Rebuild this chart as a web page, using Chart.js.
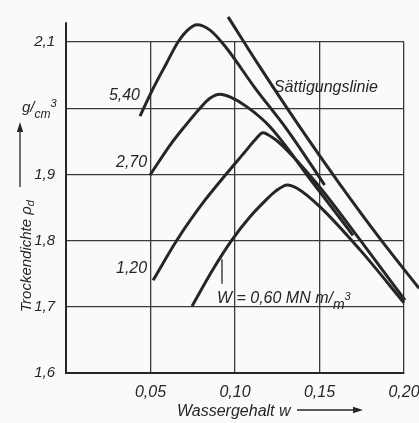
<!DOCTYPE html>
<html><head><meta charset="utf-8">
<script src="https://cdn.jsdelivr.net/npm/chart.js@4/dist/chart.umd.min.js"></script>
<style>html,body{margin:0;padding:0;background:#fafaf8;}#wrap{width:419px;height:423px;}</style>
</head><body><div id="wrap"><canvas id="c" width="419" height="423"></canvas></div>
<script>
// ---------- data ----------
const xTickValues = [0, 0.05, 0.10, 0.15, 0.20];
const yTickValues = [1.6, 1.7, 1.8, 1.9, 2.0, 2.1];

// Sättigungslinie
const wSat   = [0.0959, 0.1148, 0.1385, 0.1621, 0.1858, 0.2089];
const rhoSat = [2.138, 2.062, 1.971, 1.885, 1.803, 1.728];

// W = 5,40 MN m/m3
const w540   = [0.0438, 0.0510, 0.0595, 0.0663, 0.0720, 0.0775, 0.0852, 0.0940, 0.1120, 0.1310, 0.1530];
const rho540 = [1.988, 2.027, 2.068, 2.100, 2.118, 2.126, 2.118, 2.094, 2.030, 1.967, 1.884];

// W = 2,70
const w270   = [0.0497, 0.0615, 0.0704, 0.0793, 0.0852, 0.0911, 0.0970, 0.1071, 0.1207, 0.1462, 0.1698];
const rho270 = [1.899, 1.944, 1.973, 2.000, 2.015, 2.021, 2.017, 2.002, 1.972, 1.887, 1.808];

// W = 1,20
const w120   = [0.0515, 0.0657, 0.0822, 0.0953, 0.1059, 0.1118, 0.1166, 0.1219, 0.1266, 0.1491, 0.1740, 0.2006];
const rho120 = [1.740, 1.801, 1.861, 1.902, 1.934, 1.952, 1.963, 1.956, 1.947, 1.884, 1.801, 1.710];

// W = 0,60
const w060   = [0.0746, 0.0864, 0.0982, 0.1089, 0.1178, 0.1237, 0.1310, 0.1367, 0.1503, 0.1740, 0.2000];
const rho060 = [1.701, 1.754, 1.801, 1.836, 1.860, 1.874, 1.884, 1.879, 1.851, 1.786, 1.706];

// pointer from the 0,60 label to its curve
const wPointer   = [0.0923, 0.0923];
const rhoPointer = [1.735, 1.772];

const curveLabels = ['5,40', '2,70', '1,20'];
const satLabel = 'Sättigungslinie';
const lowLabel = 'W = 0,60 MN m/';
const xTitle = 'Wassergehalt w';
const yTitle = 'Trockendichte ρ';

// ---------- annotation anchors (data coords) ----------
const curveLabelAnchors = [[0.0438, 2.012], [0.0480, 1.911], [0.0480, 1.751]];
const satLabelAnchor = [0.1230, 2.0245];
const lowLabelAnchor = [0.0893, 1.706];

const FONT = '"Liberation Sans", Arial, Helvetica, sans-serif';
const INK = '#262626';
const pts = (w, r) => w.map((v, i) => ({x: v, y: r[i]}));

function curve(w, r) {
  return {data: pts(w, r), borderColor: INK, borderWidth: 3, pointRadius: 0,
          cubicInterpolationMode: 'monotone', clip: false, fill: false};
}

function arrow(ctx, x1, y1, x2, y2) {
  const a = Math.atan2(y2 - y1, x2 - x1), L = 10, h = 3.2;
  ctx.beginPath(); ctx.moveTo(x1, y1);
  ctx.lineTo(x2 - Math.cos(a) * L * 0.6, y2 - Math.sin(a) * L * 0.6); ctx.stroke();
  ctx.beginPath();
  ctx.moveTo(x2, y2);
  ctx.lineTo(x2 - Math.cos(a) * L - Math.sin(a) * h, y2 - Math.sin(a) * L + Math.cos(a) * h);
  ctx.lineTo(x2 - Math.cos(a) * L + Math.sin(a) * h, y2 - Math.sin(a) * L - Math.cos(a) * h);
  ctx.closePath(); ctx.fill();
}

const textPlugin = {
  id: 'texts',
  afterDraw(chart) {
    const {ctx, chartArea: ca} = chart;
    const xs = chart.scales.x, ys = chart.scales.y;
    ctx.save();
    ctx.fillStyle = INK; ctx.strokeStyle = INK;
    // y axis extension above 2,1
    ctx.lineWidth = 2;
    ctx.beginPath(); ctx.moveTo(ca.left, ca.top); ctx.lineTo(ca.left, ys.getPixelForValue(2.13)); ctx.stroke();

    ctx.textBaseline = 'alphabetic';
    ctx.font = 'italic 16px ' + FONT;
    // curve labels
    ctx.textAlign = 'right';
    curveLabels.forEach((t, i) => {
      ctx.fillText(t, xs.getPixelForValue(curveLabelAnchors[i][0]), ys.getPixelForValue(curveLabelAnchors[i][1]));
    });
    ctx.textAlign = 'left';
    ctx.fillText(satLabel, xs.getPixelForValue(satLabelAnchor[0]), ys.getPixelForValue(satLabelAnchor[1]));
    // W = 0,60 MN m/m3
    let lx = xs.getPixelForValue(lowLabelAnchor[0]), ly = ys.getPixelForValue(lowLabelAnchor[1]);
    ctx.fillText(lowLabel, lx, ly);
    lx += ctx.measureText(lowLabel).width;
    ctx.font = 'italic 14px ' + FONT;
    ctx.fillText('m', lx, ly + 6);
    lx += ctx.measureText('m').width;
    ctx.font = 'italic 11px ' + FONT;
    ctx.fillText('3', lx, ly - 3);

    // unit g/cm3 at 2,0
    const uy = ys.getPixelForValue(2.0);
    let ux = ca.left - 44;
    ctx.font = 'italic 15px ' + FONT;
    ctx.fillText('g/', ux, uy + 4);
    ux += ctx.measureText('g/').width;
    ctx.font = 'italic 12px ' + FONT;
    ctx.fillText('cm', ux, uy + 10);
    ux += ctx.measureText('cm').width;
    ctx.font = 'italic 11px ' + FONT;
    ctx.fillText('3', ux, uy - 1);

    // y title (rotated) + arrow
    ctx.save();
    ctx.translate(ca.left - 35, ca.bottom - 61);
    ctx.rotate(-Math.PI / 2);
    ctx.font = 'italic 15px ' + FONT;
    ctx.fillText(yTitle, 0, 0);
    const tw = ctx.measureText(yTitle).width;
    ctx.font = 'italic 11px ' + FONT;
    ctx.fillText('d', tw, 3);
    ctx.restore();
    ctx.lineWidth = 1.3;
    arrow(ctx, ca.left - 46, ca.bottom - 186, ca.left - 46, ca.bottom - 251);

    // x title + arrow
    ctx.font = 'italic 16px ' + FONT;
    ctx.fillText(xTitle, ca.left + 111, ca.bottom + 43);
    arrow(ctx, ca.left + 231, ca.bottom + 37, ca.left + 297, ca.bottom + 37);
    ctx.restore();
  }
};

const gridStyle = {color: '#3a3a3a', lineWidth: 1.3, drawTicks: false};
const borderStyle = {display: true, color: INK, width: 2};

new Chart(document.getElementById('c'), {
  type: 'line',
  data: {
    datasets: [
      curve(wSat, rhoSat),
      curve(w540, rho540),
      curve(w270, rho270),
      curve(w120, rho120),
      curve(w060, rho060),
      {data: pts(wPointer, rhoPointer), borderColor: INK, borderWidth: 1.3, pointRadius: 0, tension: 0, clip: false}
    ]
  },
  options: {
    responsive: false, animation: false, devicePixelRatio: 1,
    layout: {padding: {left: 0, right: 15, top: 42, bottom: 0}},
    plugins: {legend: {display: false}, tooltip: {enabled: false}},
    scales: {
      x: {
        type: 'linear', min: 0, max: 0.2,
        afterFit(s) { s.height = 50; s.paddingRight = 0; s.paddingLeft = 0; },
        afterBuildTicks(s) { s.ticks = xTickValues.map(v => ({value: v})); },
        ticks: {
          autoSkip: false, maxRotation: 0, padding: 10, color: INK,
          font: {family: FONT, size: 16, style: 'italic'},
          callback: v => v === 0 ? '' : v.toFixed(2).replace('.', ',')
        },
        grid: gridStyle, border: borderStyle
      },
      y: {
        type: 'linear', min: 1.6, max: 2.1,
        afterFit(s) { s.width = 66; s.paddingTop = 0; s.paddingBottom = 0; },
        afterBuildTicks(s) { s.ticks = yTickValues.map(v => ({value: v})); },
        ticks: {
          autoSkip: false, padding: 11, color: INK,
          font: {family: FONT, size: 15, style: 'italic'},
          callback: v => Math.abs(v - 2.0) < 1e-9 ? '' : v.toFixed(1).replace('.', ',')
        },
        grid: gridStyle, border: borderStyle
      }
    }
  },
  plugins: [textPlugin]
});
</script></body></html>
